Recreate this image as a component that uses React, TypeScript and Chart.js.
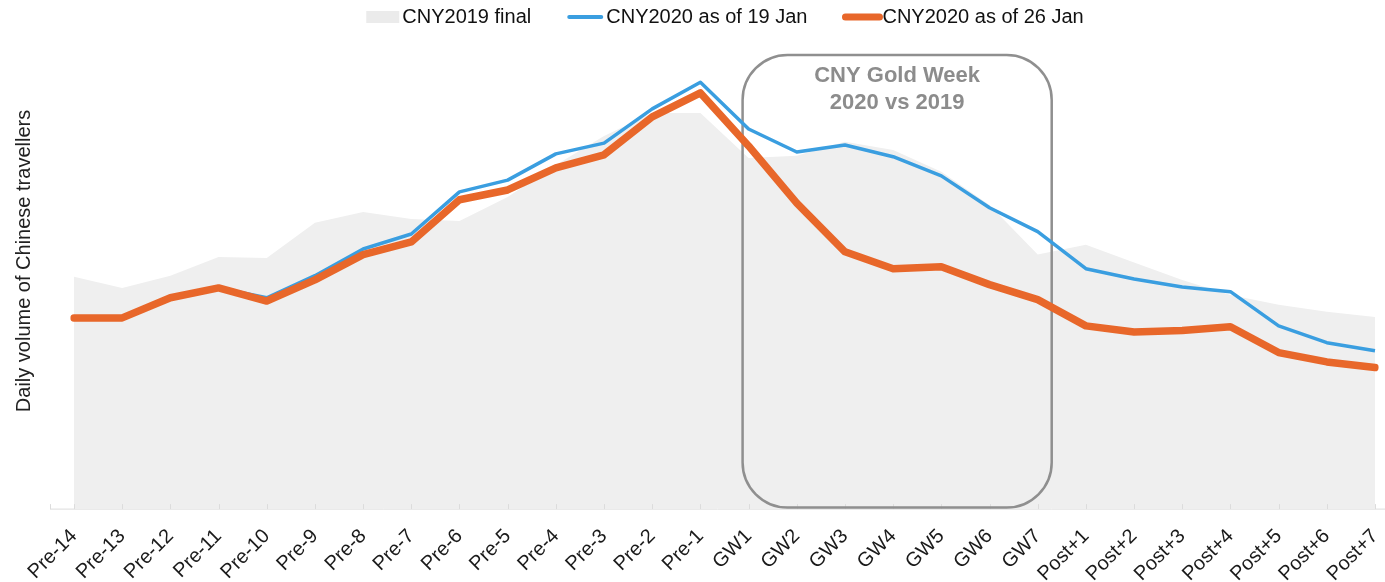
import { useEffect, useRef } from 'react';
import { Chart, registerables } from 'chart.js';

Chart.register(...registerables);

const categories = [
  'Pre-14', 'Pre-13', 'Pre-12', 'Pre-11', 'Pre-10', 'Pre-9', 'Pre-8', 'Pre-7', 'Pre-6', 'Pre-5',
  'Pre-4', 'Pre-3', 'Pre-2', 'Pre-1', 'GW1', 'GW2', 'GW3', 'GW4', 'GW5', 'GW6', 'GW7',
  'Post+1', 'Post+2', 'Post+3', 'Post+4', 'Post+5', 'Post+6', 'Post+7',
];

const cny2019Final = [
  49.5, 47.1, 49.7, 53.7, 53.5, 61.0, 63.3, 61.8, 61.4, 66.5,
  73.3, 79.5, 84.4, 84.4, 74.8, 75.3, 78.3, 76.5, 71.9, 64.8, 54.2,
  56.3, 52.5, 48.8, 45.6, 43.5, 42.0, 40.9,
];

const cny2020Jan19 = [
  40.7, 40.7, 45.0, 47.1, 45.0, 49.7, 55.4, 58.6, 67.6, 70.1,
  75.7, 78.0, 85.3, 91.0, 81.0, 76.1, 77.6, 75.1, 71.0, 64.2, 59.1,
  51.2, 49.0, 47.3, 46.3, 39.0, 35.4, 33.7,
];

const cny2020Jan26 = [
  40.7, 40.7, 45.0, 47.1, 44.3, 48.8, 54.2, 56.9, 65.9, 68.0,
  72.7, 75.5, 83.6, 88.7, 77.4, 65.2, 54.8, 51.2, 51.6, 47.8, 44.6,
  39.0, 37.7, 38.0, 38.8, 33.3, 31.3, 30.1,
];

const seriesLabels = ['CNY2019 final', 'CNY2020 as of 19 Jan', 'CNY2020 as of 26 Jan'];
const yAxisTitle = 'Daily volume of Chinese travellers';
const boxTitle = ['CNY Gold Week', '2020 vs 2019'];
const boxFrom = 'GW1';
const boxTo = 'GW7';
const boxTopValue = 96.8;
const yMax = 100;

const GREY = '#efefef';
const BLUE = '#3a9ee0';
const ORANGE = '#e8672a';
const FONT = '"Liberation Sans", Arial, Helvetica, sans-serif';

const goldWeekPlugin = {
  id: 'goldWeek',
  afterDatasetDraw(chart: any, args: any) {
    if (args.index !== 0) return;
    const { ctx, chartArea } = chart;
    const x = chart.scales.x;
    const y = chart.scales.y;
    // small axis ticks pointing up into the plot + extended axis line
    ctx.save();
    ctx.strokeStyle = '#dcdcdc';
    ctx.lineWidth = 1;
    ctx.beginPath();
    const ay = chartArea.bottom + 0.5;
    ctx.moveTo(50, ay);
    ctx.lineTo(chart.width, ay);
    ctx.moveTo(50.5, ay);
    ctx.lineTo(50.5, ay - 5);
    categories.forEach((_, i) => {
      const px = Math.round(x.getPixelForValue(i)) + 0.5;
      ctx.moveTo(px, ay);
      ctx.lineTo(px, ay - 5);
    });
    ctx.stroke();
    ctx.restore();

    const left = x.getPixelForValue(categories.indexOf(boxFrom)) - 6;
    const right = x.getPixelForValue(categories.indexOf(boxTo)) + 14;
    const top = y.getPixelForValue(boxTopValue);
    const bottom = chartArea.bottom - 1;
    ctx.save();
    ctx.beginPath();
    ctx.roundRect(left, top, right - left, bottom - top, 45);
    ctx.strokeStyle = '#8f8f8f';
    ctx.lineWidth = 2.5;
    ctx.stroke();
    ctx.font = `bold 22px ${FONT}`;
    ctx.fillStyle = '#8c8c8c';
    ctx.textAlign = 'center';
    ctx.textBaseline = 'middle';
    const cx = (left + right) / 2;
    ctx.fillText(boxTitle[0], cx, top + 21);
    ctx.fillText(boxTitle[1], cx, top + 48);
    ctx.restore();
  },
};

const decorPlugin = {
  id: 'decor',
  afterDraw(chart: any) {
    const { ctx } = chart;
    ctx.save();
    // y-axis title
    ctx.font = `20px ${FONT}`;
    ctx.fillStyle = '#222';
    ctx.textAlign = 'center';
    ctx.textBaseline = 'middle';
    ctx.translate(24, 261);
    ctx.rotate(-Math.PI / 2);
    ctx.fillText(yAxisTitle, 0, 0);
    ctx.restore();

    // legend
    ctx.save();
    ctx.font = `20px ${FONT}`;
    ctx.textBaseline = 'middle';
    ctx.textAlign = 'left';
    const markW = [33, 38, 40];
    const markGap = [3, 2, 0];
    const itemGap = 35;
    const widths = seriesLabels.map((t, i) => markW[i] + markGap[i] + ctx.measureText(t).width);
    const total = widths.reduce((a, b) => a + b, 0) + itemGap * (seriesLabels.length - 1);
    let xPos = 725 - total / 2;
    const yc = 17;
    seriesLabels.forEach((t, i) => {
      if (i === 0) {
        ctx.fillStyle = '#ebebeb';
        ctx.fillRect(xPos, yc - 6, markW[i], 12);
      } else {
        ctx.beginPath();
        ctx.lineCap = 'round';
        ctx.strokeStyle = i === 1 ? BLUE : ORANGE;
        ctx.lineWidth = i === 1 ? 4 : 7;
        ctx.moveTo(xPos + 3, yc);
        ctx.lineTo(xPos + markW[i] - 3, yc);
        ctx.stroke();
      }
      ctx.fillStyle = '#111';
      ctx.fillText(t, xPos + markW[i] + markGap[i], yc);
      xPos += widths[i] + itemGap;
    });
    ctx.restore();
  },
};

export default function App() {
  const canvasRef = useRef<HTMLCanvasElement | null>(null);

  useEffect(() => {
    if (!canvasRef.current) return;
    const chart = new Chart(canvasRef.current, {
      type: 'line',
      data: {
        labels: categories,
        datasets: [
          {
            label: seriesLabels[0],
            data: cny2019Final,
            backgroundColor: GREY,
            borderColor: GREY,
            borderWidth: 0,
            fill: 'origin',
            pointRadius: 0,
            tension: 0,
            order: 3,
          },
          {
            label: seriesLabels[1],
            data: cny2020Jan19,
            borderColor: BLUE,
            backgroundColor: BLUE,
            borderWidth: 3.5,
            fill: false,
            pointRadius: 0,
            tension: 0,
            borderJoinStyle: 'round',
            order: 2,
          },
          {
            label: seriesLabels[2],
            data: cny2020Jan26,
            borderColor: ORANGE,
            backgroundColor: ORANGE,
            borderWidth: 7.5,
            fill: false,
            pointRadius: 0,
            tension: 0,
            borderJoinStyle: 'round',
            borderCapStyle: 'round',
            order: 1,
          },
        ],
      },
      options: {
        responsive: true,
        maintainAspectRatio: false,
        animation: false,
        layout: { padding: { left: 74, right: 10, top: 40, bottom: -12 } },
        plugins: {
          legend: { display: false },
          tooltip: { enabled: false },
        },
        scales: {
          x: {
            offset: false,
            grid: { display: false },
            border: { display: false },
            afterFit(scale: any) {
              scale.paddingRight = 0;
              scale.paddingLeft = 0;
            },
            ticks: {
              autoSkip: false,
              minRotation: 45,
              maxRotation: 45,
              padding: 8,
              color: '#1a1a1a',
              font: { family: FONT, size: 20 },
            },
          },
          y: {
            display: false,
            min: 0,
            max: yMax,
          },
        },
      },
      plugins: [goldWeekPlugin, decorPlugin],
    });
    return () => chart.destroy();
  }, []);

  return (
    <div style={{ position: 'fixed', left: 0, top: 0, width: 1385, height: 582, background: '#fff' }}>
      <canvas ref={canvasRef} />
    </div>
  );
}
